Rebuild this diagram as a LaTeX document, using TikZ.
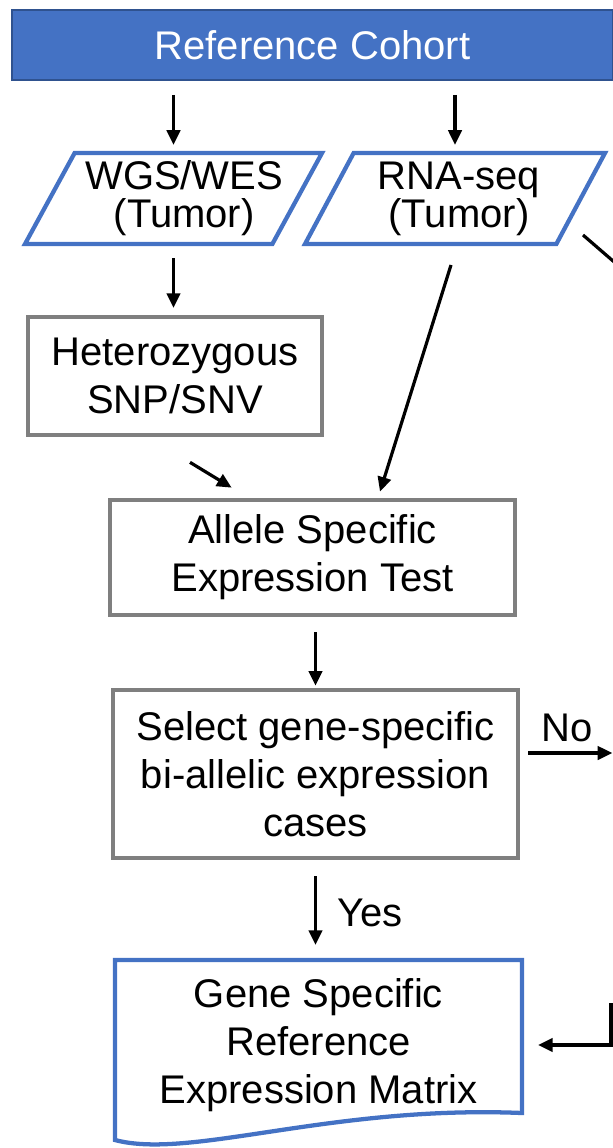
\documentclass[tikz,border=0pt]{standalone}
\usepackage{fontspec}
\setmainfont{Liberation Sans}
\usetikzlibrary{arrows.meta,shapes.geometric,calc}
\definecolor{cblue}{HTML}{4472C4}
\definecolor{cdark}{HTML}{2F528F}
\definecolor{cgray}{HTML}{7F7F7F}
\newcommand{\zw}[1]{\makebox[0pt][c]{#1}}
\begin{document}
\begin{tikzpicture}[x=0.75pt,y=-0.75pt,
  every node/.style={font=\fontsize{30}{36}\selectfont, align=center},
  titlebox/.style={rectangle, fill=cblue, draw=cdark, line width=1.5pt, text=white,
    minimum width=450.75pt, minimum height=52.5pt, inner sep=0},
  databox/.style={trapezium, trapezium left angle=56.6, trapezium right angle=123.4,
    trapezium stretches body, draw=cblue, line width=3.2pt, inner sep=0,
    minimum height=68.25pt, font=\fontsize{30}{28.5}\selectfont},
  procbox/.style={rectangle, draw=cgray, line width=3.5pt, inner sep=0},
  docframe/.style={draw=cblue, line width=3.2pt},
  arr/.style={line width=2.4pt, -{Triangle[length=11pt,width=10pt]}},
  plainline/.style={line width=2.4pt},
]
\useasboundingbox (0,0) rectangle (613,1148);
\clip (0,0) rectangle (613,1148);

\node[titlebox] (title) at (312.5,45) {Reference Cohort};
\node[databox, minimum width=222.75pt] (wgs) at (173.5,198.5) {\zw{\hspace*{16pt}WGS/WES}\\\zw{\hspace*{16pt}(Tumor)}};
\node[databox, minimum width=225pt] (rna) at (455,198.5) {\zw{\hspace*{6pt}RNA-seq}\\\zw{\hspace*{6pt}(Tumor)}};
\node[procbox, minimum width=220.5pt, minimum height=88.5pt] (het) at (175,376) {Heterozygous\\SNP/SNV};
\node[procbox, minimum width=303.75pt, minimum height=86.25pt] (ase) at (312.5,557.5) {Allele Specific\\Expression Test};
\node[procbox, minimum width=303.75pt, minimum height=126pt] (sel) at (315.5,774) {Select gene-specific\\bi-allelic expression\\cases};
\node[minimum width=305.25pt, minimum height=114.75pt, inner sep=0, outer sep=0] (mat) at (318.5,1045) {Gene Specific\\Reference\\Expression Matrix};
\draw[docframe] ($(mat.south east)+(0,-8.5)$) -- ($(mat.north east)+(0,-8.5)$) -- ($(mat.north west)+(0,-8.5)$) -- ($(mat.south west)+(0,18.5)$)
  .. controls ($(mat.south west)+(75,38.5)$) and ($(mat.south west)+(215,-16.5)$) .. ($(mat.south east)+(0,-8.5)$) -- cycle;

\node (no) at (567,728) {No};
\node (yes) at (370,913) {Yes};

\draw[arr, shorten <=10.5pt, shorten >=4.5pt] (wgs |- title.south) -- (wgs |- wgs.north);
\draw[arr, shorten <=10.5pt, shorten >=4.5pt] (rna |- title.south) -- (rna |- rna.north);
\draw[arr, shorten <=9pt, shorten >=5pt] (wgs |- wgs.south) -- (wgs |- het.north);
\draw[arr] ($(het.south)+(15,25)$) -- ($(ase.north west)+(124,-10)$);
\draw[arr] ($(rna.center)+(-4,66.5)$) -- ($(ase.north)+(67.5,-6)$);
\draw[arr, shorten <=11pt, shorten >=1.5pt] (sel |- ase.south) -- (sel.north);
\draw[arr, shorten <=12pt] (sel.south) -- ($(sel.south |- mat.north)+(0,-23.5)$);
\draw[arr] ($(sel.east)+(8,-21)$) -- ++(84,0);
\coordinate (back) at (611,1003);
\draw[arr] (back) |- ($(mat.east)+(16,0)$);
\coordinate (offr) at (650,293);
\draw[plainline] ($(rna.center)+(128,36.5)$) -- (offr);
\end{tikzpicture}
\end{document}
